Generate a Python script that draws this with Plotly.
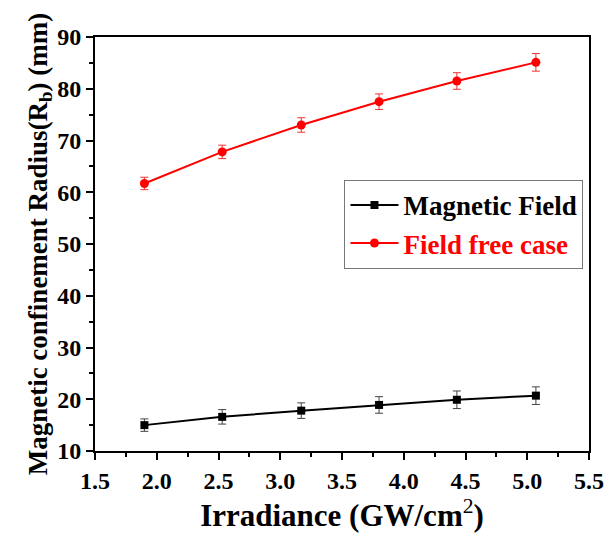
import plotly.graph_objects as go

irradiance = [1.90, 2.53, 3.17, 3.80, 4.43, 5.07]
magnetic_field = [15.0, 16.6, 17.8, 18.9, 19.9, 20.7]
magnetic_err = [1.2, 1.4, 1.5, 1.6, 1.7, 1.7]
field_free = [61.7, 67.8, 73.0, 77.5, 81.5, 85.1]
field_free_err = [1.2, 1.3, 1.4, 1.5, 1.6, 1.7]

x_ticks = [1.5, 2.0, 2.5, 3.0, 3.5, 4.0, 4.5, 5.0, 5.5]
y_ticks = [10, 20, 30, 40, 50, 60, 70, 80, 90]

FONT = "Liberation Serif"

fig = go.Figure()
fig.add_trace(go.Scatter(
    x=irradiance, y=magnetic_field, mode="lines+markers",
    name="<b><span style='color:black'>Magnetic Field</span></b>",
    line=dict(color="black", width=2),
    marker=dict(symbol="square", size=8, color="black"),
    error_y=dict(type="data", array=magnetic_err, color="#444", thickness=1, width=4),
))
fig.add_trace(go.Scatter(
    x=irradiance, y=field_free, mode="lines+markers",
    name="<b><span style='color:red'>Field free case</span></b>",
    line=dict(color="red", width=2),
    marker=dict(symbol="circle", size=9, color="red"),
    error_y=dict(type="data", array=field_free_err, color="#e33", thickness=1, width=4),
))

axis_common = dict(
    showline=True, linecolor="black", linewidth=2, mirror=True,
    showgrid=False, zeroline=False,
    ticks="outside", ticklen=7, tickwidth=1.5, tickcolor="black",
    tickfont=dict(family=FONT, size=24, color="black"),
)

fig.update_xaxes(
    range=[1.5, 5.5], tickmode="array", tickvals=x_ticks,
    ticktext=[f"<b>{v:.1f}</b>" for v in x_ticks],
    minor=dict(ticks="outside", ticklen=4, tickwidth=1.5, tickcolor="black", dtick=0.25, tick0=1.5),
    title=dict(text="<b>Irradiance (GW/cm</b><sup>2</sup><b>)</b>", font=dict(family=FONT, size=31, color="black"), standoff=6),
    **axis_common,
)
fig.update_yaxes(
    range=[10, 90], tickmode="array", tickvals=y_ticks,
    ticktext=[f"<b>{v}</b>" for v in y_ticks],
    minor=dict(ticks="outside", ticklen=4, tickwidth=1.5, tickcolor="black", dtick=5, tick0=10),
    title=dict(text="<b>Magnetic confinement Radius(R<sub>b</sub>) (mm)</b>", font=dict(family=FONT, size=27, color="black"), standoff=2),
    **axis_common,
)

fig.update_layout(
    width=616, height=538,
    margin=dict(l=95, r=19, t=37, b=87),
    plot_bgcolor="white", paper_bgcolor="white",
    showlegend=True,
    legend=dict(
        x=0.505, y=0.655, xanchor="left", yanchor="top",
        bgcolor="white", bordercolor="#777", borderwidth=1,
        font=dict(family=FONT, size=27, color="black"),
        itemwidth=48, tracegroupgap=0,
    ),
)

fig.write_html("out.html")
